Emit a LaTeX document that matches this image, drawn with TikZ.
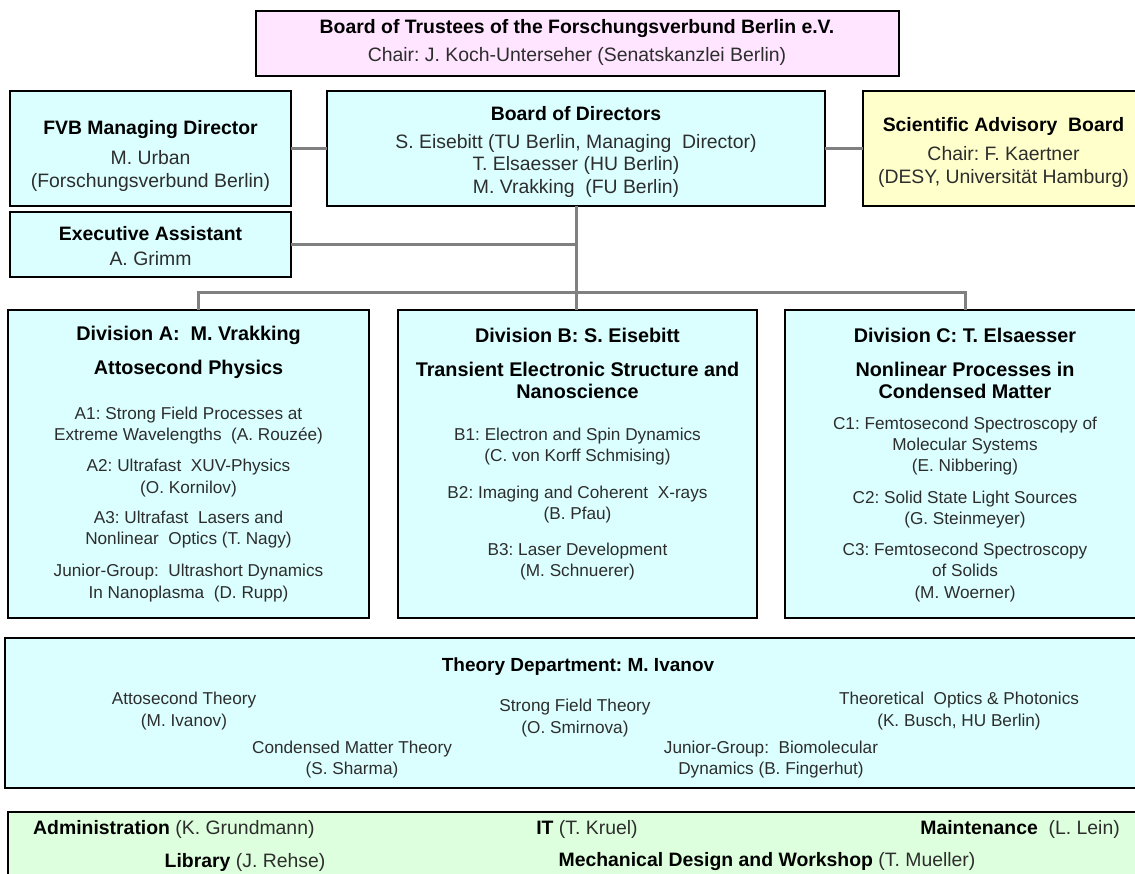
\documentclass[tikz,border=0pt]{standalone}
\usepackage{fontspec}
\setmainfont{Liberation Sans}
\frenchspacing
\definecolor{boxcyan}{RGB}{219,255,255}
\definecolor{boxpink}{RGB}{255,229,255}
\definecolor{boxyellow}{RGB}{255,255,204}
\definecolor{boxgreen}{RGB}{221,255,221}
\definecolor{linkgray}{RGB}{128,128,128}
\definecolor{txtgray}{RGB}{45,45,45}
\newcommand{\hdsize}{\fontsize{19.4}{22.5}\selectfont}
\newcommand{\dvsize}{\fontsize{19.8}{22}\selectfont}
\newcommand{\txsize}{\fontsize{17.2}{21.3}\selectfont}
\begin{document}
\begin{tikzpicture}[x=1pt,y=-1pt,line cap=rect,
	box/.style={draw=black,line width=2.4pt,inner sep=0pt},
	link/.style={draw=linkgray,line width=3pt},
	head/.style={font=\hdsize\bfseries,align=center,inner sep=0pt,yshift=-2pt},
	body/.style={font=\hdsize,text=txtgray,align=center,inner sep=0pt,yshift=-2pt},
	dtitle/.style={font=\dvsize\bfseries,align=center,inner sep=0pt,yshift=-2pt},
	item/.style={font=\txsize,text=txtgray,align=center,inner sep=0pt,yshift=-2pt},
	ttitle/.style={font=\fontsize{19}{22}\selectfont\bfseries,inner sep=0pt,yshift=-2pt},
	gtxt/.style={font=\hdsize,text=txtgray,inner sep=0pt,yshift=-2pt}]
			\path[use as bounding box] (0,0) rectangle (1135,874);
			\clip (0,0) rectangle (1135,874);
			% boxes
			\node[box,fill=boxpink,minimum width=643,minimum height=65] (trustees) at (577.5,43.5) {};
			\node[box,fill=boxcyan,minimum width=281,minimum height=115] (fvb) at (150.5,148.5) {};
			\node[box,fill=boxcyan,minimum width=498,minimum height=115] (bod) at (576,148.5) {};
			\node[box,fill=boxyellow,minimum width=281,minimum height=115] (sab) at (1003.5,148.5) {};
			\node[box,fill=boxcyan,minimum width=281,minimum height=65] (exec) at (150.5,244.5) {};
			\node[box,fill=boxcyan,minimum width=361,minimum height=308] (divA) at (188.5,464) {};
			\node[box,fill=boxcyan,minimum width=359,minimum height=308] (divB) at (577.5,464) {};
			\node[box,fill=boxcyan,minimum width=360,minimum height=308] (divC) at (965,464) {};
			\node[box,fill=boxcyan,minimum width=1146,minimum height=150] (theory) at (578,713) {};
			\node[box,fill=boxgreen,minimum width=1140,minimum height=100] (infra) at (578,862) {};
			% connectors
			\coordinate (bus) at (578,293);
			\draw[link] (fvb) -- (bod);
			\draw[link] (bod) -- (sab);
			\draw[link] (bod.south) -- (bod.south |- divB.north);
			\draw[link] (exec.east) -- (exec.east -| bod.south);
			\draw[link] ([xshift=9.5pt]divA.north) |- (bus) -| (divC.north);
			% top boards
			\node[head] (trusteesT) at (577,27) {Board of Trustees of the Forschungsverbund Berlin e.V.};
			\node[body] (trusteesC) at (577,54) {Chair: J. Koch-Unterseher (Senatskanzlei Berlin)};
			\node[head] (fvbT) at (150.5,128) {FVB Managing Director};
			\node[body] (fvbN) at (150.5,169) {M. Urban\\(Forschungsverbund Berlin)};
			\node[head] (bodT) at (576,112) {Board of Directors};
			\node[body] (bodN) at (576,163.5) {S. Eisebitt (TU Berlin, Managing~~Director)\\T. Elsaesser (HU Berlin)\\M. Vrakking~~(FU Berlin)};
			\node[head] (sabT) at (1003.5,124) {Scientific Advisory~~Board};
			\node[body] (sabN) at (1003.5,165) {Chair: F. Kaertner\\(DESY, Universität Hamburg)};
			\node[head] (execT) at (150.5,232) {Executive Assistant};
			\node[body] (execN) at (150.5,257) {A. Grimm};
			% division A
			\node[dtitle] (divAT) at (188.5,333) {Division A:~~M. Vrakking};
			\node[dtitle] (divAS) at (188.5,367) {Attosecond Physics};
			\node[item] (a1) at (188.5,423.5) {A1: Strong Field Processes at\\Extreme Wavelengths~~(A. Rouzée)};
			\node[item] (a2) at (188.5,476) {A2: Ultrafast~~XUV-Physics\\(O. Kornilov)};
			\node[item] (a3) at (188.5,527.5) {A3: Ultrafast~~Lasers and\\Nonlinear~~Optics (T. Nagy)};
			\node[item] (aj) at (188.5,581) {Junior-Group:~~Ultrashort Dynamics\\In Nanoplasma~~(D. Rupp)};
			% division B
			\node[dtitle] (divBT) at (577.5,333) {Division B: S. Eisebitt};
			\node[dtitle] (divBS) at (577.5,378) {Transient Electronic Structure and\\Nanoscience};
			\node[item] (b1) at (577.5,444.5) {B1: Electron and Spin Dynamics\\(C. von Korff Schmising)};
			\node[item] (b2) at (577.5,502.5) {B2: Imaging and Coherent~~X-rays\\(B. Pfau)};
			\node[item] (b3) at (577.5,559.5) {B3: Laser Development\\(M. Schnuerer)};
			% division C
			\node[dtitle] (divCT) at (965,333) {Division C: T. Elsaesser};
			\node[dtitle] (divCS) at (965,378) {Nonlinear Processes in\\Condensed Matter};
			\node[item] (c1) at (965,444) {C1: Femtosecond Spectroscopy of\\Molecular Systems\\(E. Nibbering)};
			\node[item] (c2) at (965,507.5) {C2: Solid State Light Sources\\(G. Steinmeyer)};
			\node[item] (c3) at (965,570.5) {C3: Femtosecond Spectroscopy\\of Solids\\(M. Woerner)};
			% theory
			\node[ttitle] (theoryT) at (578,665) {Theory Department: M. Ivanov};
			\node[item] (th1) at (184,709) {Attosecond Theory\\(M. Ivanov)};
			\node[item] (th2) at (575,716) {Strong Field Theory\\(O. Smirnova)};
			\node[item] (th3) at (959,709) {Theoretical~~Optics \& Photonics\\(K. Busch, HU Berlin)};
			\node[item] (th4) at (352,757.5) {Condensed Matter Theory\\(S. Sharma)};
			\node[item] (th5) at (771,757.5) {Junior-Group:~~Biomolecular\\Dynamics (B. Fingerhut)};
			% infrastructure
			\node[gtxt,anchor=west] (admin) at (33,827) {\textbf{\color{black}Administration} (K. Grundmann)};
			\node[gtxt] (it) at (587,827) {\textbf{\color{black}IT} (T. Kruel)};
			\node[gtxt,anchor=east] (maint) at (1120,827) {\textbf{\color{black}Maintenance}~~(L. Lein)};
			\node[gtxt] (lib) at (245,860) {\textbf{\color{black}Library} (J. Rehse)};
			\node[gtxt] (mech) at (767,860) {\textbf{\color{black}Mechanical Design and Workshop} (T. Mueller)};
		\end{tikzpicture}
\end{document}
